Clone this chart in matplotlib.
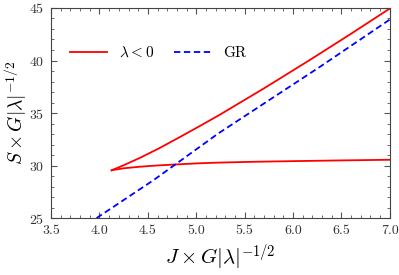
import matplotlib
matplotlib.use("Agg")
import matplotlib.pyplot as plt
from matplotlib.ticker import MultipleLocator

plt.rcParams['font.family'] = 'serif'
plt.rcParams['font.serif'] = ['cmr10']
plt.rcParams['mathtext.fontset'] = 'cm'
plt.rcParams['axes.formatter.use_mathtext'] = True

# ramo superior (lambda < 0)
J_sup = [4.126, 4.25, 4.42, 4.62, 4.83, 5.04, 5.24, 5.70, 6.17, 6.60, 7.00]
S_sup = [29.55, 30.03, 30.74, 31.66, 32.71, 33.78, 34.82, 37.35, 40.03, 42.55, 44.95]

# ramo inferior (lambda < 0)
J_inf = [4.126, 4.25, 4.42, 4.60, 4.80, 5.04, 5.23, 5.60, 6.00, 6.50, 7.00]
S_inf = [29.55, 29.74, 29.89, 30.01, 30.11, 30.22, 30.28, 30.36, 30.42, 30.49, 30.55]

# relatividade geral
J_gr = [3.97, 4.56, 5.23, 6.28, 7.00]
S_gr = [25.0, 28.62, 33.07, 39.41, 43.90]

fig = plt.figure(figsize=(3.99, 2.75), dpi=100)
ax = fig.add_axes([0.128, 0.207, 0.849, 0.764])

ax.plot(J_sup, S_sup, color='red', lw=1.3, label=r'$\lambda<0$')
ax.plot(J_inf, S_inf, color='red', lw=1.3)
ax.plot(J_gr, S_gr, color='blue', lw=1.3, ls=(0, (3.5, 2)), label='GR')

ax.set_xlim(3.5, 7.0)
ax.set_ylim(25, 45)
ax.xaxis.set_major_locator(MultipleLocator(0.5))
ax.xaxis.set_minor_locator(MultipleLocator(0.1))
ax.yaxis.set_major_locator(MultipleLocator(5))
ax.yaxis.set_minor_locator(MultipleLocator(1))
ax.xaxis.set_major_formatter(plt.FormatStrFormatter('%.1f'))
ax.tick_params(which='both', direction='in', top=True, right=True, labelsize=10,
               colors='#555555', labelcolor='#333333')
ax.tick_params(which='major', length=4, pad=5)
ax.tick_params(which='minor', length=2)
for s in ax.spines.values():
    s.set_color('#444444')

ax.set_xlabel(r'$J\times G|\lambda|^{-1/2}$', fontsize=15, labelpad=4)
ax.set_ylabel(r'$S\times G|\lambda|^{-1/2}$', fontsize=14, labelpad=0)

ax.legend(loc='upper left', bbox_to_anchor=(0.015, 0.885), ncol=2, frameon=False,
          fontsize=11, handlelength=2.4, columnspacing=1.3)

fig.savefig('out.png', dpi=100)
